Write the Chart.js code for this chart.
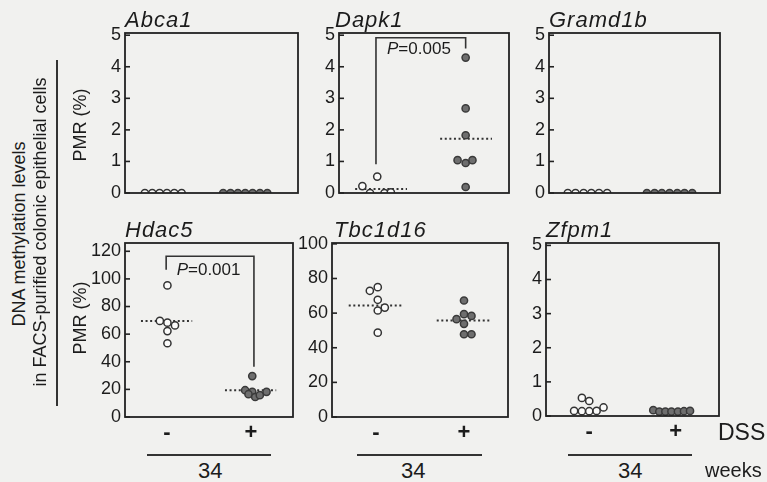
<!DOCTYPE html>
<html><head><meta charset="utf-8">
<script src="https://cdn.jsdelivr.net/npm/chart.js@4"></script>
<style>
html,body{margin:0;padding:0;background:#f1f1ef;}
#wrap{position:relative;width:767px;height:482px;overflow:hidden;font-family:"Liberation Sans",Arial,sans-serif;color:#1c1c1c;}
canvas{position:absolute;}
.t{position:absolute;white-space:nowrap;line-height:1;}
.r{position:absolute;white-space:nowrap;line-height:1;transform:translate(-50%,-50%) rotate(-90deg);}
.hl{position:absolute;background:#333;height:2px;}
</style></head><body><div id="wrap"></div>
<script>
// ---------- data ----------
const groupTicks = ['-', '+'];
const groupPos = [1, 3];
const ticksPmr5 = [0, 1, 2, 3, 4, 5];
const ticksHdac5 = [0, 20, 40, 60, 80, 100, 120];
const ticksTbc1d16 = [0, 20, 40, 60, 80, 100];

const abca1NegX = [0.46, 0.63, 0.80, 0.97, 1.14, 1.31];
const abca1NegY = [0, 0, 0, 0, 0, 0];
const abca1PosX = [2.27, 2.44, 2.61, 2.78, 2.95, 3.12, 3.29];
const abca1PosY = [0, 0, 0, 0, 0, 0, 0];

const dapk1NegX = [0.55, 0.73, 0.90, 1.07, 1.22];
const dapk1NegY = [0.22, 0.0, 0.52, 0.0, 0.02];
const dapk1PosX = [2.98, 2.98, 2.98, 2.79, 2.98, 3.14, 2.98];
const dapk1PosY = [4.29, 2.68, 1.83, 1.04, 0.95, 1.04, 0.19];
const dapk1Means = [0.13, 1.72];
const dapk1P = 'P=0.005';

const gramd1bNegX = [0.44, 0.62, 0.81, 0.99, 1.17, 1.36];
const gramd1bNegY = [0, 0, 0, 0, 0, 0];
const gramd1bPosX = [2.29, 2.47, 2.64, 2.82, 3.00, 3.17, 3.35];
const gramd1bPosY = [0, 0, 0, 0, 0, 0, 0];

const hdac5NegX = [1.01, 0.83, 1.01, 1.19, 1.01, 1.01];
const hdac5NegY = [95.3, 69.6, 68.3, 66.3, 62.2, 53.4];
const hdac5PosX = [3.03, 2.86, 3.03, 2.94, 3.10, 3.21, 3.37];
const hdac5PosY = [29.6, 19.4, 18.2, 16.5, 14.5, 15.8, 18.2];
const hdac5Means = [69.6, 19.4];
const hdac5P = 'P=0.001';

const tbc1d16NegX = [0.86, 1.04, 1.04, 1.20, 1.04, 1.04];
const tbc1d16NegY = [72.9, 75.0, 67.7, 63.2, 61.5, 48.7];
const tbc1d16PosX = [3.00, 2.83, 3.00, 3.17, 3.00, 3.00, 3.17];
const tbc1d16PosY = [67.3, 56.5, 59.4, 58.4, 53.8, 47.8, 47.8];
const tbc1d16Means = [64.4, 55.7];

const zfpm1NegX = [0.83, 1.00, 0.65, 0.83, 1.00, 1.17, 1.33];
const zfpm1NegY = [0.53, 0.44, 0.15, 0.14, 0.14, 0.15, 0.25];
const zfpm1PosX = [2.48, 2.62, 2.76, 2.90, 3.05, 3.19, 3.33];
const zfpm1PosY = [0.17, 0.13, 0.13, 0.13, 0.13, 0.14, 0.15];

// ---------- layout / styling ----------
const wrap = document.getElementById('wrap');
const FONT = '"Liberation Sans", Arial, sans-serif';
Chart.defaults.font.family = FONT;
Chart.defaults.color = '#1c1c1c';

function zip(xs, ys) { return xs.map((x, i) => ({x: x, y: ys[i]})); }

const framePlugin = {
  id: 'frame',
  afterDraw(chart, args, opts) {
    const {ctx, chartArea: a, scales} = chart;
    ctx.save();
    ctx.strokeStyle = '#222';
    ctx.lineWidth = 1.8;
    ctx.strokeRect(a.left, a.top, a.right - a.left, a.bottom - a.top);
    ctx.lineWidth = 1.6;
    scales.y.ticks.forEach(t => {
      const y = scales.y.getPixelForValue(t.value);
      ctx.beginPath(); ctx.moveTo(a.left, y); ctx.lineTo(a.left + 5, y); ctx.stroke();
    });
    if (opts && opts.pText) {
      const px = scales.x.getPixelForValue(opts.pText.x);
      const py = scales.y.getPixelForValue(opts.pText.y);
      ctx.fillStyle = '#1c1c1c';
      ctx.textBaseline = 'middle';
      ctx.textAlign = 'left';
      ctx.font = 'italic 17px ' + FONT;
      ctx.fillText(opts.pText.text[0], px, py);
      const w = ctx.measureText(opts.pText.text[0]).width;
      ctx.font = '17px ' + FONT;
      ctx.fillText(opts.pText.text.slice(1), px + w, py);
    }
    ctx.restore();
  }
};

function addText(txt, x, baseline, size, extra) {
  const d = document.createElement('div');
  d.className = 't';
  d.textContent = txt;
  d.style.fontSize = size + 'px';
  d.style.left = x + 'px';
  d.style.top = (baseline - 0.86 * size) + 'px';
  if (extra) Object.assign(d.style, extra);
  wrap.appendChild(d);
  return d;
}
function addRot(txt, cx, cy, size) {
  const d = document.createElement('div');
  d.className = 'r';
  d.textContent = txt;
  d.style.fontSize = size + 'px';
  d.style.left = cx + 'px';
  d.style.top = cy + 'px';
  wrap.appendChild(d);
}
function addLine(x1, x2, y) {
  const d = document.createElement('div');
  d.className = 'hl';
  d.style.left = x1 + 'px'; d.style.width = (x2 - x1) + 'px'; d.style.top = (y - 1) + 'px';
  wrap.appendChild(d);
}

function makePanel(cfg) {
  const padL = 50, padT = 16, padR = 8, padB = cfg.xLabels ? 36 : 14;
  const b = cfg.box;
  const cv = document.createElement('canvas');
  const W = (b.r - b.l) + padL + padR, H = (b.b - b.t) + padT + padB;
  cv.width = W; cv.height = H;
  cv.style.width = W + 'px'; cv.style.height = H + 'px';
  cv.style.left = (b.l - padL) + 'px'; cv.style.top = (b.t - padT) + 'px';
  wrap.appendChild(cv);

  const datasets = [
    {data: zip(cfg.negX, cfg.negY), pointRadius: 3.6, pointBorderWidth: 1.5,
     pointBackgroundColor: '#fbfbfa', pointBorderColor: '#333', showLine: false},
    {data: zip(cfg.posX, cfg.posY), pointRadius: 3.6, pointBorderWidth: 1.5,
     pointBackgroundColor: '#6e6e6e', pointBorderColor: '#3a3a3a', showLine: false}
  ];
  if (cfg.means) {
    cfg.means.forEach((m, i) => {
      const c = groupPos[i];
      datasets.push({data: [{x: c - 0.62, y: m}, {x: c + 0.6, y: m}], showLine: true,
        borderColor: '#333', borderWidth: 2, borderDash: [2, 2.6], pointRadius: 0});
    });
  }
  if (cfg.bracket) {
    datasets.push({data: zip(cfg.bracket.x, cfg.bracket.y), showLine: true,
      borderColor: '#333', borderWidth: 1.6, pointRadius: 0, tension: 0});
  }

  new Chart(cv, {
    type: 'scatter',
    data: {datasets: datasets},
    plugins: [framePlugin],
    options: {
      responsive: false, animation: false, devicePixelRatio: 1, events: [],
      layout: {padding: {left: 0, top: padT, right: padR, bottom: cfg.xLabels ? 0 : padB}},
      plugins: {legend: {display: false}, tooltip: {enabled: false},
        frame: {pText: cfg.pText || null}},
      scales: {
        x: {type: 'linear', min: 0, max: 4, display: !!cfg.xLabels,
          afterBuildTicks: a => { a.ticks = groupPos.map(v => ({value: v})); },
          afterFit: a => { a.height = padB; },
          grid: {display: false, drawTicks: false}, border: {display: false},
          ticks: {callback: (v, i) => groupTicks[i], padding: 3, color: '#1c1c1c',
            font: {size: 22, weight: 'bold'}, maxRotation: 0, autoSkip: false}},
        y: {type: 'linear', min: 0, max: cfg.yMax,
          afterBuildTicks: a => { a.ticks = cfg.yTicks.map(v => ({value: v})); },
          afterFit: a => { a.width = padL; },
          grid: {display: false, drawTicks: false}, border: {display: false},
          ticks: {padding: 4, color: '#1c1c1c', font: {size: 18}}}
      }
    }
  });

  addText(cfg.title, b.l + (cfg.titleDx || 0), b.t - 5, 22, {fontStyle: 'italic', letterSpacing: '1px'});
}

makePanel({title: 'Abca1', box: {l: 125, t: 33, r: 298, b: 207}, yMax: 5.07, yTicks: ticksPmr5,
  negX: abca1NegX, negY: abca1NegY, posX: abca1PosX, posY: abca1PosY});
makePanel({title: 'Dapk1', titleDx: -4, box: {l: 339, t: 33, r: 509, b: 207}, yMax: 5.07, yTicks: ticksPmr5,
  negX: dapk1NegX, negY: dapk1NegY, posX: dapk1PosX, posY: dapk1PosY, means: dapk1Means,
  bracket: {x: [0.87, 0.87, 2.98, 2.98], y: [0.91, 4.92, 4.92, 4.58]},
  pText: {x: 1.13, y: 4.54, text: dapk1P}});
makePanel({title: 'Gramd1b', box: {l: 549, t: 33, r: 720, b: 207}, yMax: 5.07, yTicks: ticksPmr5,
  negX: gramd1bNegX, negY: gramd1bNegY, posX: gramd1bPosX, posY: gramd1bPosY});
makePanel({title: 'Hdac5', box: {l: 125, t: 243, r: 293, b: 417}, yMax: 126, yTicks: ticksHdac5, xLabels: true,
  negX: hdac5NegX, negY: hdac5NegY, posX: hdac5PosX, posY: hdac5PosY, means: hdac5Means,
  bracket: {x: [0.98, 0.98, 3.07, 3.07], y: [106.7, 116.4, 116.4, 36.4]},
  pText: {x: 1.23, y: 106, text: hdac5P}});
makePanel({title: 'Tbc1d16', titleDx: 2, box: {l: 332, t: 243, r: 508, b: 417}, yMax: 100.5, yTicks: ticksTbc1d16, xLabels: true,
  negX: tbc1d16NegX, negY: tbc1d16NegY, posX: tbc1d16PosX, posY: tbc1d16PosY, means: tbc1d16Means});
makePanel({title: 'Zfpm1', box: {l: 546, t: 243, r: 719, b: 416}, yMax: 5.07, yTicks: ticksPmr5, xLabels: true,
  negX: zfpm1NegX, negY: zfpm1NegY, posX: zfpm1PosX, posY: zfpm1PosY});

// bottom annotations
addLine(147, 271, 455); addLine(357, 482, 455); addLine(568, 692, 455);
addText('34', 198, 479, 22);
addText('34', 401, 479, 22);
addText('34', 618, 479, 22);
addText('DSS', 718, 441, 23);
addText('weeks', 705, 477, 20);

// left titles
addRot('PMR (%)', 80, 125, 18);
addRot('PMR (%)', 80, 318, 18);
addRot('DNA methylation levels', 19, 234, 18);
addRot('in FACS-purified colonic epithelial cells', 40, 232, 18);
const vl = document.createElement('div');
vl.style.cssText = 'position:absolute;left:56px;top:60px;width:2px;height:346px;background:#333;';
wrap.appendChild(vl);
</script></body></html>
